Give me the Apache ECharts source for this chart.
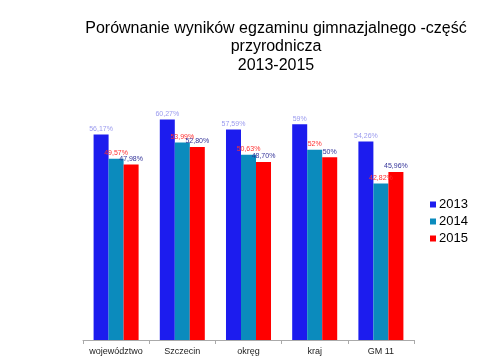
<!DOCTYPE html>
<html><head><meta charset="utf-8">
<script src="https://cdn.jsdelivr.net/npm/echarts@6/dist/echarts.min.js"></script>
<style>html,body{margin:0;padding:0;background:#fff}#c{width:480px;height:360px}</style>
</head><body><div id="c"></div>
<script>
var categories = ['województwo', 'Szczecin', 'okręg', 'kraj', 'GM 11'];
var years = ['2013', '2014', '2015'];
var v2013 = [56.17, 60.27, 57.59, 59, 54.26];
var v2014 = [49.57, 53.99, 50.63, 52, 42.82];
var v2015 = [47.98, 52.80, 48.70, 50, 45.96];
var barColors = ['#1c1cee', '#0b8bbd', '#ff0000'];
var labelColors = ['#9a9aee', '#ff3030', '#333399'];

function fmt(p) {
  var v = p.value;
  var s = (Math.round(v) === v) ? String(v) : v.toFixed(2).replace('.', ',');
  return s + '%';
}
var data = [v2013, v2014, v2015];
var series = years.map(function (y, i) {
  return {
    name: y, type: 'bar', data: data[i],
    barGap: '0%', barCategoryGap: '32%',
    itemStyle: { color: barColors[i] },
    label: { show: true, position: 'top', distance: 2, formatter: fmt,
      fontSize: 7, fontFamily: 'Liberation Sans', color: labelColors[i] }
  };
});

var chart = echarts.init(document.getElementById('c'), null, { renderer: 'canvas' });
chart.setOption({
  animation: false,
  backgroundColor: '#fff',
  title: {
    text: 'Porównanie wyników egzaminu gimnazjalnego -część\nprzyrodnicza\n2013-2015',
    left: 271, top: 14, textAlign: 'center',
    textStyle: { fontFamily: 'Liberation Sans', fontWeight: 'normal', fontSize: 16, lineHeight: 18.5, color: '#000' }
  },
  legend: {
    orient: 'vertical', left: 425, top: 193, itemWidth: 6, itemHeight: 6, itemGap: 4,
    icon: 'rect', data: years,
    textStyle: { fontFamily: 'Liberation Sans', fontSize: 13, color: '#000', padding: [0, 0, 0, -2] }
  },
  grid: { left: 83, right: 66, top: 84, bottom: 20 },
  xAxis: {
    type: 'category', data: categories,
    axisLine: { lineStyle: { color: '#aaaaaa' } },
    axisTick: { show: true, length: 4, lineStyle: { color: '#aaaaaa' } },
    axisLabel: { interval: 0, fontFamily: 'Liberation Sans', fontSize: 9, color: '#222', margin: 7 }
  },
  yAxis: {
    type: 'value', min: 0, max: 70, show: false, splitLine: { show: false }
  },
  series: series
});
</script></body></html>
